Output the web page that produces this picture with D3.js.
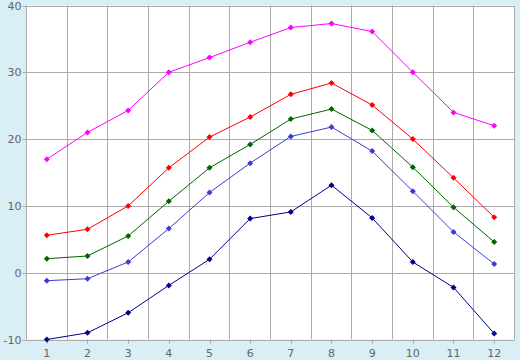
<!DOCTYPE html>
<html><head><meta charset="utf-8">
<script src="https://cdn.jsdelivr.net/npm/d3@7"></script>
<style>html,body{margin:0;padding:0;background:#d9eef5;}svg{display:block;}</style>
</head><body>
<script>
const categories = ["1","2","3","4","5","6","7","8","9","10","11","12"];
const yTicks = [-10, 0, 10, 20, 30, 40];
const magenta = [17.0, 21.0, 24.3, 30.0, 32.2, 34.5, 36.7, 37.3, 36.1, 30.0, 24.0, 22.0];
const red     = [5.6, 6.5, 10.0, 15.7, 20.3, 23.3, 26.7, 28.4, 25.1, 20.0, 14.2, 8.3];
const green   = [2.1, 2.5, 5.5, 10.7, 15.7, 19.2, 23.0, 24.5, 21.3, 15.8, 9.8, 4.6];
const blue    = [-1.2, -0.9, 1.6, 6.6, 12.0, 16.4, 20.4, 21.8, 18.2, 12.2, 6.1, 1.3];
const navy    = [-10.0, -9.0, -6.0, -1.9, 2.0, 8.1, 9.1, 13.1, 8.2, 1.6, -2.2, -9.1];
const seriesList = [
  {values: magenta, color: "#ff00ff"},
  {values: red, color: "#ff0000"},
  {values: green, color: "#006400"},
  {values: blue, color: "#3c3cd2"},
  {values: navy, color: "#00008c"}
];
const W = 520, H = 360;
const m = {l: 26.5, r: 5.5, t: 5.5, b: 20.5};
const svg = d3.select("body").append("svg").attr("width", W).attr("height", H);
svg.append("rect").attr("width", W).attr("height", H).attr("fill", "#d9eef5");
const x = d3.scaleBand().domain(categories).range([m.l, W - m.r]);
const y = d3.scaleLinear().domain([-10, 40]).range([H - m.b, m.t]);
const g = svg.append("g");
g.append("rect").attr("x", m.l).attr("y", m.t).attr("width", W - m.r - m.l).attr("height", H - m.b - m.t).attr("fill", "#fff");
const gridC = "#ababab";
g.selectAll(".hg").data(yTicks).join("line")
  .attr("x1", m.l - 4).attr("x2", W - m.r)
  .attr("y1", d => Math.round(y(d)) + 0.5).attr("y2", d => Math.round(y(d)) + 0.5)
  .attr("stroke", gridC);
const bounds = categories.map(c => x(c)).concat([W - m.r]);
g.selectAll(".vg").data(bounds).join("line")
  .attr("x1", d => Math.round(d - 0.5) + 0.5).attr("x2", d => Math.round(d - 0.5) + 0.5)
  .attr("y1", m.t).attr("y2", H - m.b)
  .attr("stroke", gridC);
g.selectAll(".xt").data(categories).join("line")
  .attr("x1", d => Math.round(x(d) + x.bandwidth() / 2) + 0.5)
  .attr("x2", d => Math.round(x(d) + x.bandwidth() / 2) + 0.5)
  .attr("y1", H - m.b).attr("y2", H - m.b + 4)
  .attr("stroke", gridC);
const font = "DejaVu Sans, Verdana, sans-serif";
g.selectAll(".xl").data(categories).join("text")
  .attr("x", d => x(d) + x.bandwidth() / 2).attr("y", H - 3)
  .attr("text-anchor", "middle").attr("font-family", font).attr("font-size", 11)
  .attr("fill", "#666").text(d => d);
g.selectAll(".yl").data(yTicks).join("text")
  .attr("x", m.l - 5).attr("y", d => y(d) + 4)
  .attr("text-anchor", "end").attr("font-family", font).attr("font-size", 11)
  .attr("fill", "#666").text(d => d);
const cx = (d, i) => x(categories[i]) + x.bandwidth() / 2;
const line = d3.line().x(cx).y(d => y(d));
seriesList.forEach(s => {
  g.append("path").datum(s.values).attr("d", line)
    .attr("fill", "none").attr("stroke", s.color).attr("stroke-width", 1);
  g.selectAll(null).data(s.values).join("path")
    .attr("transform", (d, i) => `translate(${cx(d, i)},${y(d)}) rotate(45)`)
    .attr("d", d3.symbol().type(d3.symbolSquare).size(18))
    .attr("fill", s.color);
});
</script>
</body></html>
